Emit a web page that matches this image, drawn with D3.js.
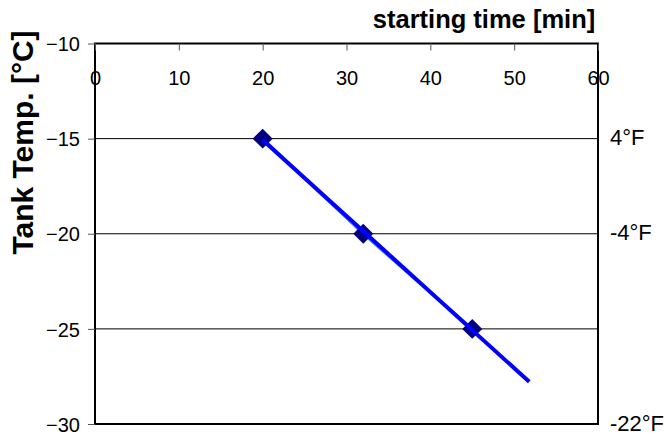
<!DOCTYPE html>
<html>
<head>
<meta charset="utf-8">
<script src="https://cdn.jsdelivr.net/npm/d3@7"></script>
<style>
  html, body { margin: 0; padding: 0; background: #fff; }
  svg { display: block; font-family: "Liberation Sans", Arial, sans-serif; }
</style>
</head>
<body>
<div id="chart"></div>
<script>
// data
const startTimes = [20, 32, 45];          // min
const tankTemps = [-15, -20, -25];        // °C
const xTicks = [0, 10, 20, 30, 40, 50, 60];
const yTicks = [-10, -15, -20, -25, -30];
const gridTemps = [-15, -20, -25];
const fahrenheitAt = [-15, -20, -30];
const fahrenheitLabels = ["4°F", "-4°F", "-22°F"];
const trendRange = [20, 51.8];            // trendline drawn with forward forecast

function renderChart(containerId) {
    const width = 668;
    const height = 436;
    const margin = { top: 43.5, right: 70, bottom: 12, left: 95 };

    const svg = d3.select("#" + containerId)
        .append("svg")
        .attr("width", width)
        .attr("height", height);

    const x = d3.scaleLinear().domain([0, 60]).range([margin.left, width - margin.right]);
    const y = d3.scaleLinear().domain([-10, -30]).range([margin.top, height - margin.bottom]);

    // -- Gridlines --
    svg.append("g")
        .selectAll("line")
        .data(gridTemps)
        .join("line")
        .attr("x1", x(0)).attr("x2", x(60))
        .attr("y1", d => y(d)).attr("y2", d => y(d))
        .attr("stroke", "#000")
        .attr("stroke-width", 1);

    // -- Plot frame --
    svg.append("rect")
        .attr("x", x(0)).attr("y", y(-10))
        .attr("width", x(60) - x(0))
        .attr("height", y(-30) - y(-10))
        .attr("fill", "none")
        .attr("stroke", "#000")
        .attr("stroke-width", 2);

    // -- Left axis --
    const yAxis = svg.append("g")
        .attr("transform", `translate(${x(0)},0)`)
        .call(d3.axisLeft(y).tickValues(yTicks).tickSize(7).tickPadding(8).tickFormat(d3.format("d")));
    yAxis.select(".domain").remove();
    yAxis.selectAll(".tick line").attr("stroke", "#555");
    yAxis.selectAll("text")
        .attr("fill", "#000")
        .style("font-size", "20px")
        .attr("dy", "0.36em");

    // -- Top axis, ticks point inward, labels inside the plot --
    const xAxis = svg.append("g")
        .attr("transform", `translate(0,${y(-10)})`)
        .call(d3.axisTop(x).tickValues(xTicks).tickSize(-7).tickFormat(d3.format("d")));
    xAxis.select(".domain").remove();
    xAxis.selectAll(".tick line").attr("stroke", "#555");
    xAxis.selectAll("text")
        .attr("fill", "#000")
        .attr("y", 0)
        .attr("dy", "41px")
        .style("font-size", "20px");

    // -- Fahrenheit labels on the right --
    svg.append("g")
        .selectAll("text")
        .data(fahrenheitAt)
        .join("text")
        .attr("x", x(60) + 12)
        .attr("y", d => y(d))
        .attr("dy", "0.3em")
        .style("font-size", "22px")
        .text((d, i) => fahrenheitLabels[i]);

    // -- Titles --
    svg.append("text")
        .attr("x", 484)
        .attr("y", 28)
        .attr("text-anchor", "middle")
        .style("font-size", "25.5px")
        .style("font-weight", "bold")
        .text("starting time [min]");

    svg.append("text")
        .attr("transform", `translate(33,142.5) rotate(-90)`)
        .attr("text-anchor", "middle")
        .style("font-size", "30px")
        .style("font-weight", "bold")
        .text("Tank Temp. [°C]");

    const points = startTimes.map((t, i) => ({ t, temp: tankTemps[i] }));

    // -- Series line --
    const line = d3.line().x(d => x(d.t)).y(d => y(d.temp));
    svg.append("path")
        .datum(points)
        .attr("d", line)
        .attr("fill", "none")
        .attr("stroke", "#4a78ff")
        .attr("stroke-width", 3);

    // -- Markers (diamonds) --
    const diamond = d3.symbol().type(d3.symbolSquare).size(200);
    svg.append("g")
        .selectAll("path")
        .data(points)
        .join("path")
        .attr("d", diamond)
        .attr("transform", d => `translate(${x(d.t)},${y(d.temp)}) rotate(45)`)
        .attr("fill", "#000080");

    // -- Linear trendline (least squares) --
    const mx = d3.mean(startTimes);
    const my = d3.mean(tankTemps);
    const sxy = d3.sum(startTimes, (t, i) => (t - mx) * (tankTemps[i] - my));
    const sxx = d3.sum(startTimes, t => (t - mx) * (t - mx));
    const slope = sxy / sxx;
    const intercept = my - slope * mx;
    const trendPts = trendRange.map(t => ({ t, temp: intercept + slope * t }));
    svg.append("path")
        .datum(trendPts)
        .attr("d", line)
        .attr("fill", "none")
        .attr("stroke", "#0000ff")
        .attr("stroke-width", 4);
}

renderChart("chart");
</script>
</body>
</html>
